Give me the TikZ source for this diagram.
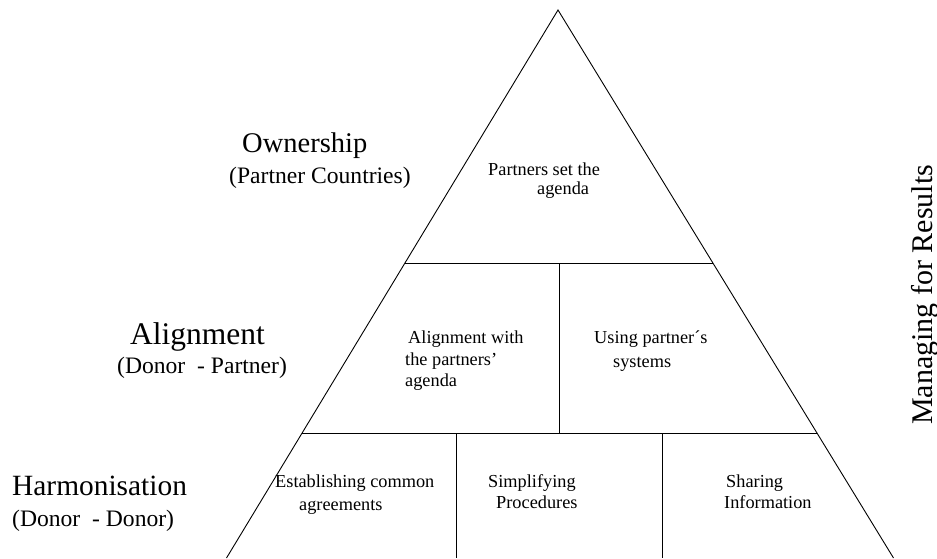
\documentclass[tikz,border=0pt]{standalone}
\usepackage{fontspec}
\setmainfont{Liberation Serif}
\usetikzlibrary{calc}
\tikzset{
  edge/.style={line width=0.9pt, black},
  lbl/.style={anchor=base west, inner sep=0pt},
  big/.style={lbl, font=\fontsize{28.5}{30}\selectfont},
  sub/.style={lbl, font=\fontsize{23.6}{26}\selectfont},
  inner/.style={lbl, font=\fontsize{18.3}{20}\selectfont}
}
\begin{document}
\begin{tikzpicture}[x=1pt,y=-1pt]
\useasboundingbox (0,0) rectangle (937,558);
% triangle corners (base not drawn; clipped by the page)
\coordinate (apex) at (558,10);
\coordinate (bl) at (226.5,558);
\coordinate (br) at (893.5,558);
\coordinate (l1) at ($(apex)!0.4617!(bl)$);
\coordinate (r1) at ($(apex)!0.4617!(br)$);
\coordinate (l2) at ($(apex)!0.7719!(bl)$);
\coordinate (r2) at ($(apex)!0.7719!(br)$);
\coordinate (d1t) at (559,263);
\coordinate (d1b) at (559,433);
\coordinate (d2t) at (456,433);
\coordinate (d2b) at (456,558);
\coordinate (d3t) at (662,433);
\coordinate (d3b) at (662,558);
\draw[edge] (bl) -- (apex) -- (br);
\draw[edge] (l1) -- (r1);
\draw[edge] (l2) -- (r2);
\draw[edge] (d1t) -- (d1b);
\draw[edge] (d2t) -- (d2b);
\draw[edge] (d3t) -- (d3b);
% left labels
\node[big] (own) at (242,152) {Ownership};
\node[sub] (ownsub) at (229,183) {(Partner Countries)};
\node[lbl, font=\fontsize{31.5}{33}\selectfont] (ali) at (130,344) {Alignment};
\node[sub] (alisub) at (117,373) {(Donor\ \ - Partner)};
\node[lbl, font=\fontsize{29.4}{31}\selectfont] (har) at (12,495) {Harmonisation};
\node[sub] (harsub) at (12,526) {(Donor\ \ - Donor)};
% inner texts
\node[inner] (p1) at (488,175) {Partners set the};
\node[inner] (p2) at (537,194) {agenda};
\node[inner] (a1) at (408,343) {Alignment with};
\node[inner] (a2) at (405,365) {the partners’};
\node[inner] (a3) at (405,386) {agenda};
\node[inner] (u1) at (594,343) {Using partner´s};
\node[inner] (u2) at (613,367) {systems};
\node[inner] (e1) at (275,487) {Establishing common};
\node[inner] (e2) at (299,510) {agreements};
\node[inner] (s1) at (488,487) {Simplifying};
\node[inner] (s2) at (496,508) {Procedures};
\node[inner] (i1) at (726,487) {Sharing};
\node[inner] (i2) at (724,508) {Information};
% right vertical label
\node[lbl, rotate=90, font=\fontsize{30}{32}\selectfont] (mfr) at (932,425) {Managing for Results};
\end{tikzpicture}
\end{document}
